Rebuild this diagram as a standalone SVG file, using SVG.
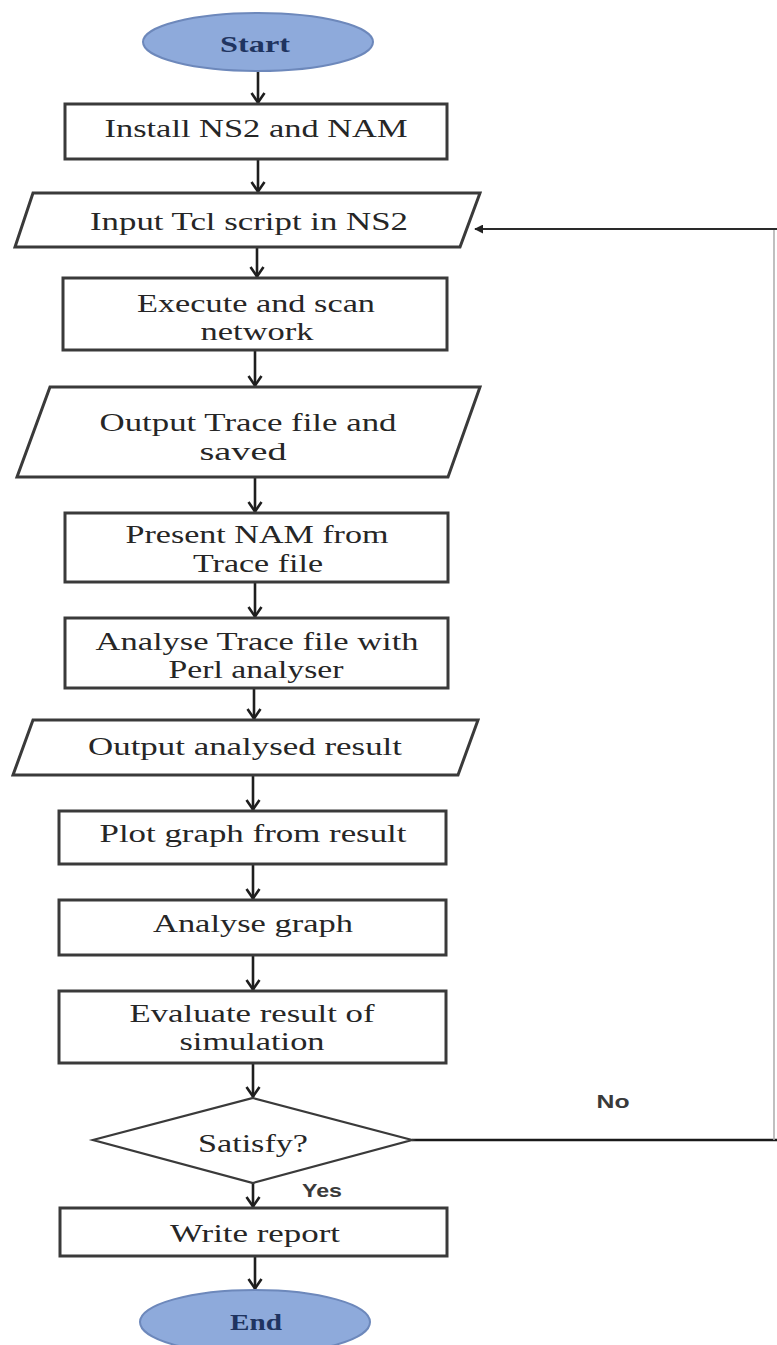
<svg xmlns="http://www.w3.org/2000/svg" width="777" height="1345" viewBox="0 0 777 1345">
<defs>
<marker id="open" viewBox="0 0 14 16" refX="13" refY="8" markerWidth="14" markerHeight="16" markerUnits="userSpaceOnUse" orient="auto">
<path d="M3,1.5 L12.5,8 L3,14.5" fill="none" stroke="#1e1e1e" stroke-width="2.6"/>
</marker>
<marker id="dot" viewBox="0 0 10 10" refX="9" refY="5" markerWidth="9" markerHeight="9" markerUnits="userSpaceOnUse" orient="auto">
<path d="M0,0 L10,5 L0,10 z" fill="#222"/>
</marker>
<style>
.box{fill:#fff;stroke:#3a3a3a;stroke-width:3}
.dia{fill:#fff;stroke:#3a3a3a;stroke-width:2.2}
.term{fill:#8eaadb;stroke:#6d88bb;stroke-width:2}
.t{font-family:"Liberation Serif","Times New Roman",serif;font-size:26px;fill:#262626;text-anchor:middle}
.tt{font-family:"Liberation Serif","Times New Roman",serif;font-size:23px;font-weight:bold;fill:#1f3460;text-anchor:middle}
.lbl{font-family:"Liberation Sans",Arial,sans-serif;font-size:19px;font-weight:bold;fill:#3a3a3a;text-anchor:middle}
.c{fill:none;stroke:#1e1e1e;stroke-width:2.6}
.loop{fill:none;stroke:#1a1a1a;stroke-width:2.6}
</style>
</defs>
<rect width="777" height="1345" fill="#fff"/>

<g id="connectors">
<line class="c" x1="258" y1="71" x2="258" y2="103" marker-end="url(#open)"/>
<line class="c" x1="258" y1="159" x2="258" y2="192" marker-end="url(#open)"/>
<line class="c" x1="257" y1="247" x2="257" y2="277" marker-end="url(#open)"/>
<line class="c" x1="255" y1="350" x2="255" y2="386" marker-end="url(#open)"/>
<line class="c" x1="255" y1="477" x2="255" y2="512" marker-end="url(#open)"/>
<line class="c" x1="255" y1="582" x2="255" y2="617" marker-end="url(#open)"/>
<line class="c" x1="254" y1="688" x2="254" y2="719" marker-end="url(#open)"/>
<line class="c" x1="253" y1="775" x2="253" y2="810" marker-end="url(#open)"/>
<line class="c" x1="253" y1="864" x2="253" y2="899" marker-end="url(#open)"/>
<line class="c" x1="253" y1="955" x2="253" y2="990" marker-end="url(#open)"/>
<line class="c" x1="253" y1="1063" x2="253" y2="1097" marker-end="url(#open)"/>
<line class="c" x1="253" y1="1183" x2="253" y2="1207" marker-end="url(#open)"/>
<line class="c" x1="255" y1="1256" x2="255" y2="1289" marker-end="url(#open)"/>
<line class="loop" x1="412" y1="1140" x2="777" y2="1140"/>
<line x1="774" y1="1140" x2="774" y2="229" stroke="#b0b0b0" stroke-width="1.6"/>
<line x1="777" y1="229" x2="475" y2="229" stroke="#2a2a2a" stroke-width="2.2" marker-end="url(#dot)"/>
<text class="lbl" x="613" y="1108" textLength="33" lengthAdjust="spacingAndGlyphs">No</text>
<text class="lbl" x="322" y="1197" textLength="40" lengthAdjust="spacingAndGlyphs">Yes</text>
</g>

<g id="start">
<ellipse class="term" cx="258" cy="42" rx="115" ry="29"/>
<text class="tt" x="255" y="52" textLength="70" lengthAdjust="spacingAndGlyphs">Start</text>
</g>

<g id="install">
<rect class="box" x="65" y="104" width="382" height="55"/>
<text class="t" x="256" y="137" textLength="303" lengthAdjust="spacingAndGlyphs">Install NS2 and NAM</text>
</g>

<g id="input">
<polygon class="box" points="33,193 480,193 460,247 15,247"/>
<text class="t" x="249" y="230" textLength="318" lengthAdjust="spacingAndGlyphs">Input Tcl script in NS2</text>
</g>

<g id="execute">
<rect class="box" x="63" y="278" width="384" height="72"/>
<text class="t" x="256" y="312" textLength="238" lengthAdjust="spacingAndGlyphs">Execute and scan</text>
<text class="t" x="257" y="340" textLength="113" lengthAdjust="spacingAndGlyphs">network</text>
</g>

<g id="output-trace">
<polygon class="box" points="50,387 480,387 448,477 17,477"/>
<text class="t" x="248" y="431" textLength="297" lengthAdjust="spacingAndGlyphs">Output Trace file and</text>
<text class="t" x="243" y="460" textLength="87" lengthAdjust="spacingAndGlyphs">saved</text>
</g>

<g id="present">
<rect class="box" x="65" y="513" width="383" height="69"/>
<text class="t" x="257" y="543" textLength="263" lengthAdjust="spacingAndGlyphs">Present NAM from</text>
<text class="t" x="258" y="572" textLength="130" lengthAdjust="spacingAndGlyphs">Trace file</text>
</g>

<g id="analyse-trace">
<rect class="box" x="65" y="618" width="383" height="70"/>
<text class="t" x="257" y="650" textLength="323" lengthAdjust="spacingAndGlyphs">Analyse Trace file with</text>
<text class="t" x="256" y="678" textLength="175" lengthAdjust="spacingAndGlyphs">Perl analyser</text>
</g>

<g id="output-analysed">
<polygon class="box" points="33,720 478,720 458,775 13,775"/>
<text class="t" x="245" y="755" textLength="314" lengthAdjust="spacingAndGlyphs">Output analysed result</text>
</g>

<g id="plot">
<rect class="box" x="59" y="811" width="387" height="53"/>
<text class="t" x="253" y="842" textLength="307" lengthAdjust="spacingAndGlyphs">Plot graph from result</text>
</g>

<g id="analyse-graph">
<rect class="box" x="59" y="900" width="387" height="55"/>
<text class="t" x="253" y="932" textLength="200" lengthAdjust="spacingAndGlyphs">Analyse graph</text>
</g>

<g id="evaluate">
<rect class="box" x="59" y="991" width="387" height="72"/>
<text class="t" x="252" y="1022" textLength="245" lengthAdjust="spacingAndGlyphs">Evaluate result of</text>
<text class="t" x="252" y="1050" textLength="145" lengthAdjust="spacingAndGlyphs">simulation</text>
</g>

<g id="satisfy">
<polygon class="dia" points="253,1098 412,1140 253,1183 93,1140"/>
<text class="t" x="253" y="1152" textLength="110" lengthAdjust="spacingAndGlyphs">Satisfy?</text>
</g>

<g id="write-report">
<rect class="box" x="60" y="1208" width="387" height="48"/>
<text class="t" x="255" y="1242" textLength="170" lengthAdjust="spacingAndGlyphs">Write report</text>
</g>

<g id="end">
<ellipse class="term" cx="255" cy="1322" rx="115" ry="32"/>
<text class="tt" x="256" y="1330" textLength="52" lengthAdjust="spacingAndGlyphs">End</text>
</g>
</svg>
